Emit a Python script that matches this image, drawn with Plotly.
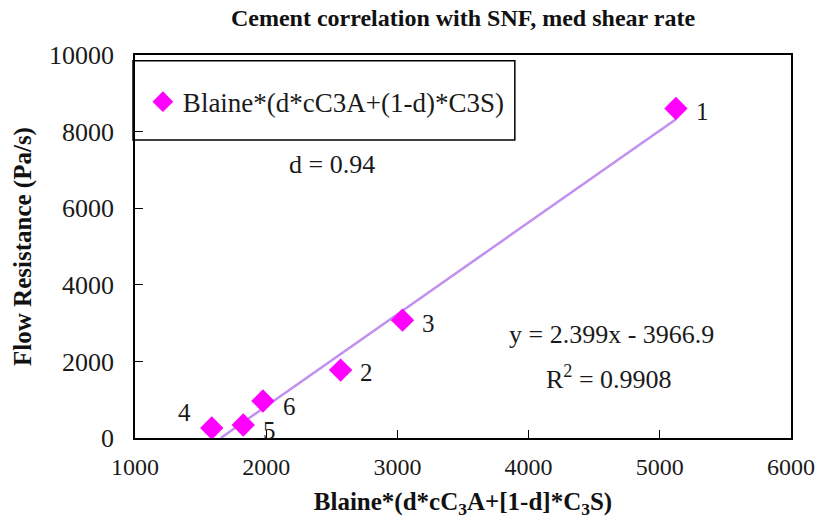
import plotly.graph_objects as go

# Data
labels = ["1", "2", "3", "4", "5", "6"]
blaine = [5123, 2567, 3039, 1585, 1825, 1975]
flow_res = [8605, 1773, 3077, 260, 339, 965]
slope = 2.399
intercept = -3966.9
r2 = 0.9908
d_value = 0.94

x_ticks = [1000, 2000, 3000, 4000, 5000, 6000]
y_ticks = [0, 2000, 4000, 6000, 8000, 10000]

# label offsets (pixels) for point labels
label_shift = {"1": (27, -3), "2": (26, -2), "3": (26, -3), "4": (-27, 16), "5": (26, -5), "6": (27, -5)}

FONT = "Liberation Serif, Times New Roman, serif"
TXT = "#1a1a1a"

fig = go.Figure()

x0 = -intercept / slope
x1 = max(blaine)
fig.add_trace(go.Scatter(
    x=[x0, x1], y=[slope * x0 + intercept, slope * x1 + intercept],
    mode="lines", line=dict(color="#C18FF0", width=2.5),
    showlegend=False, hoverinfo="skip"))

fig.add_trace(go.Scatter(
    x=blaine, y=flow_res, mode="markers",
    marker=dict(symbol="diamond", size=18, color="#FF00FF"),
    name="Blaine*(d*cC3A+(1-d)*C3S)"))

for lab, xv, yv in zip(labels, blaine, flow_res):
    dx, dy = label_shift[lab]
    fig.add_annotation(x=xv, y=yv, text=lab, showarrow=False, xshift=dx, yshift=dy,
                       xanchor="center", yanchor="middle",
                       font=dict(family=FONT, size=25, color=TXT))

fig.add_annotation(xref="paper", yref="paper", x=0.30, y=0.713, text=f"d = {d_value}",
                   xanchor="center", yanchor="middle",
                   showarrow=False, font=dict(family=FONT, size=26, color=TXT))
fig.add_annotation(xref="paper", yref="paper", x=0.726, y=0.269,
                   text=f"y = {slope}x - {abs(intercept)}", xanchor="center", yanchor="middle",
                   showarrow=False, font=dict(family=FONT, size=26, color=TXT))
fig.add_annotation(xref="paper", yref="paper", x=0.722, y=0.157,
                   text=f"R<sup>2</sup> = {r2}", xanchor="center", yanchor="middle",
                   showarrow=False, font=dict(family=FONT, size=26, color=TXT))

# legend box
fig.add_shape(type="rect", xref="paper", yref="paper", x0=-0.003, x1=0.579, y0=0.778, y1=0.985,
              line=dict(color="black", width=1.5), fillcolor="white", layer="below")

fig.update_layout(
    width=827, height=529,
    margin=dict(l=135, r=25, t=55, b=91),
    paper_bgcolor="white", plot_bgcolor="white",
    title=dict(text="<b>Cement correlation with SNF, med shear rate</b>", x=0.5, xref="paper",
               xanchor="center", yref="container", y=0.966, yanchor="middle",
               font=dict(family=FONT, size=24, color="#111")),
    legend=dict(x=0.012, y=0.877, xanchor="left", yanchor="middle", bgcolor="rgba(0,0,0,0)",
                borderwidth=0, font=dict(family=FONT, size=27, color=TXT)),
    font=dict(family=FONT, color=TXT),
)
fig.update_xaxes(range=[1000, 6000], tickvals=x_ticks, ticktext=[str(v) for v in x_ticks],
                 showgrid=False, zeroline=False,
                 showline=True, linecolor="black", linewidth=1.5, mirror=True,
                 ticks="inside", ticklen=8, tickcolor="black", ticklabelstandoff=6,
                 tickfont=dict(family=FONT, size=24, color=TXT),
                 title=dict(text="<b>Blaine*(d*cC<sub>3</sub>A+[1-d]*C<sub>3</sub>S)</b>",
                            font=dict(family=FONT, size=25, color="#111"), standoff=14))
fig.update_yaxes(range=[0, 10000], tickvals=y_ticks, ticktext=[str(v) for v in y_ticks],
                 showgrid=False, zeroline=False,
                 showline=True, linecolor="black", linewidth=1.5, mirror=True,
                 ticks="inside", ticklen=8, tickcolor="black", ticklabelstandoff=14,
                 tickfont=dict(family=FONT, size=26, color=TXT),
                 title=dict(text="<b>Flow Resistance (Pa/s)</b>",
                            font=dict(family=FONT, size=25, color="#111"), standoff=10))

fig.write_html("out.html", config={"displayModeBar": False},
               post_script="document.body.style.margin='0';document.body.style.overflow='hidden';")
